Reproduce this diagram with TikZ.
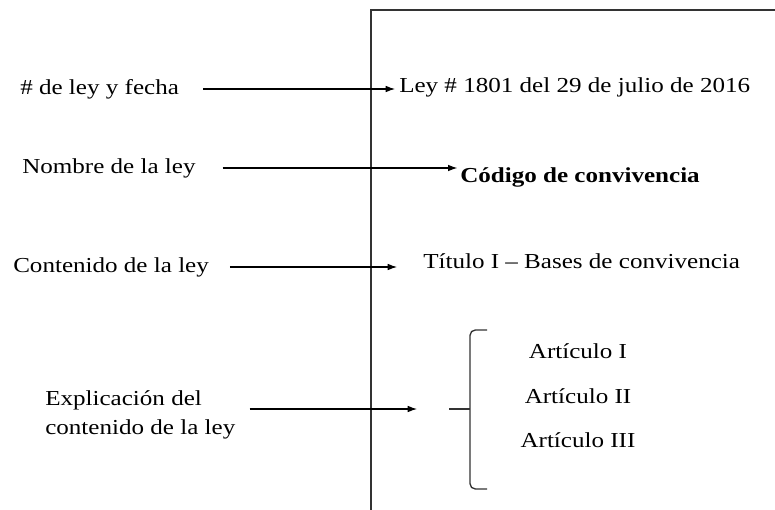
\documentclass[tikz,border=0pt]{standalone}
\usepackage{fontspec}
\setmainfont[FakeStretch=1.175]{Liberation Serif}
\usetikzlibrary{arrows.meta}

\begin{document}
\begin{tikzpicture}[x=0.75pt,y=-0.75pt,
	etiq/.style={anchor=west,inner sep=0pt,text height=0.9em,text depth=0.1em,font=\fontsize{16}{22}\selectfont},
	dato/.style={anchor=base west,inner sep=0pt,font=\fontsize{16}{22}\selectfont},
	flecha/.style={-{Latex[length=7pt,width=5pt]},line width=0.8pt},
	marco/.style={line width=1pt,black!80}]
	\useasboundingbox (0,0) rectangle (775,510);
	\draw [marco] (371,510) -- (371,10) -- (775,10);
	% columna izquierda
	\node [etiq] (fecha) at (20,89) {\# de ley y fecha};
	\node [etiq] (nombre) at (22,168) {Nombre de la ley};
	\node [etiq] (contenido) at (13,267) {Contenido de la ley};
	\node [etiq,align=left,text height=,text depth=] (explic) at (45,415) {Explicación del\\contenido de la ley};
	% columna derecha
	\node [dato] (ley) at (399,93) {Ley \# 1801 del 29 de julio de 2016};
	\node [dato,font=\fontsize{16}{22}\selectfont\bfseries] (codigo) at (460,182) {Código de convivencia};
	\node [dato] (titulo) at (423,268) {Título I – Bases de convivencia};
	\foreach \n/\r/\y in {1/I/358,2/II/403,3/III/447}{
		\node [dato,anchor=base] (art\n) at (578,\y) {Artículo \r};
	}
	% llave
	\coordinate (llave) at (449,409);
	\draw [marco,rounded corners=4pt] (487,330) -- (470,330) -- (470,489) -- (487,489);
	\draw [marco] (llave) -- (470,409);
	% flechas
	\draw [flecha,shorten <=18pt,shorten >=3pt] (fecha.east) -- (fecha.east -| ley.west);
	\draw [flecha,shorten <=20pt,shorten >=2pt] (nombre.east) -- (nombre.east -| codigo.west);
	\draw [flecha,shorten <=15.5pt,shorten >=19.5pt] (contenido.east) -- (contenido.east -| titulo.west);
	\draw [flecha,shorten <=10.5pt,shorten >=24pt] (explic.east |- llave) -- (llave);
\end{tikzpicture}
\end{document}
